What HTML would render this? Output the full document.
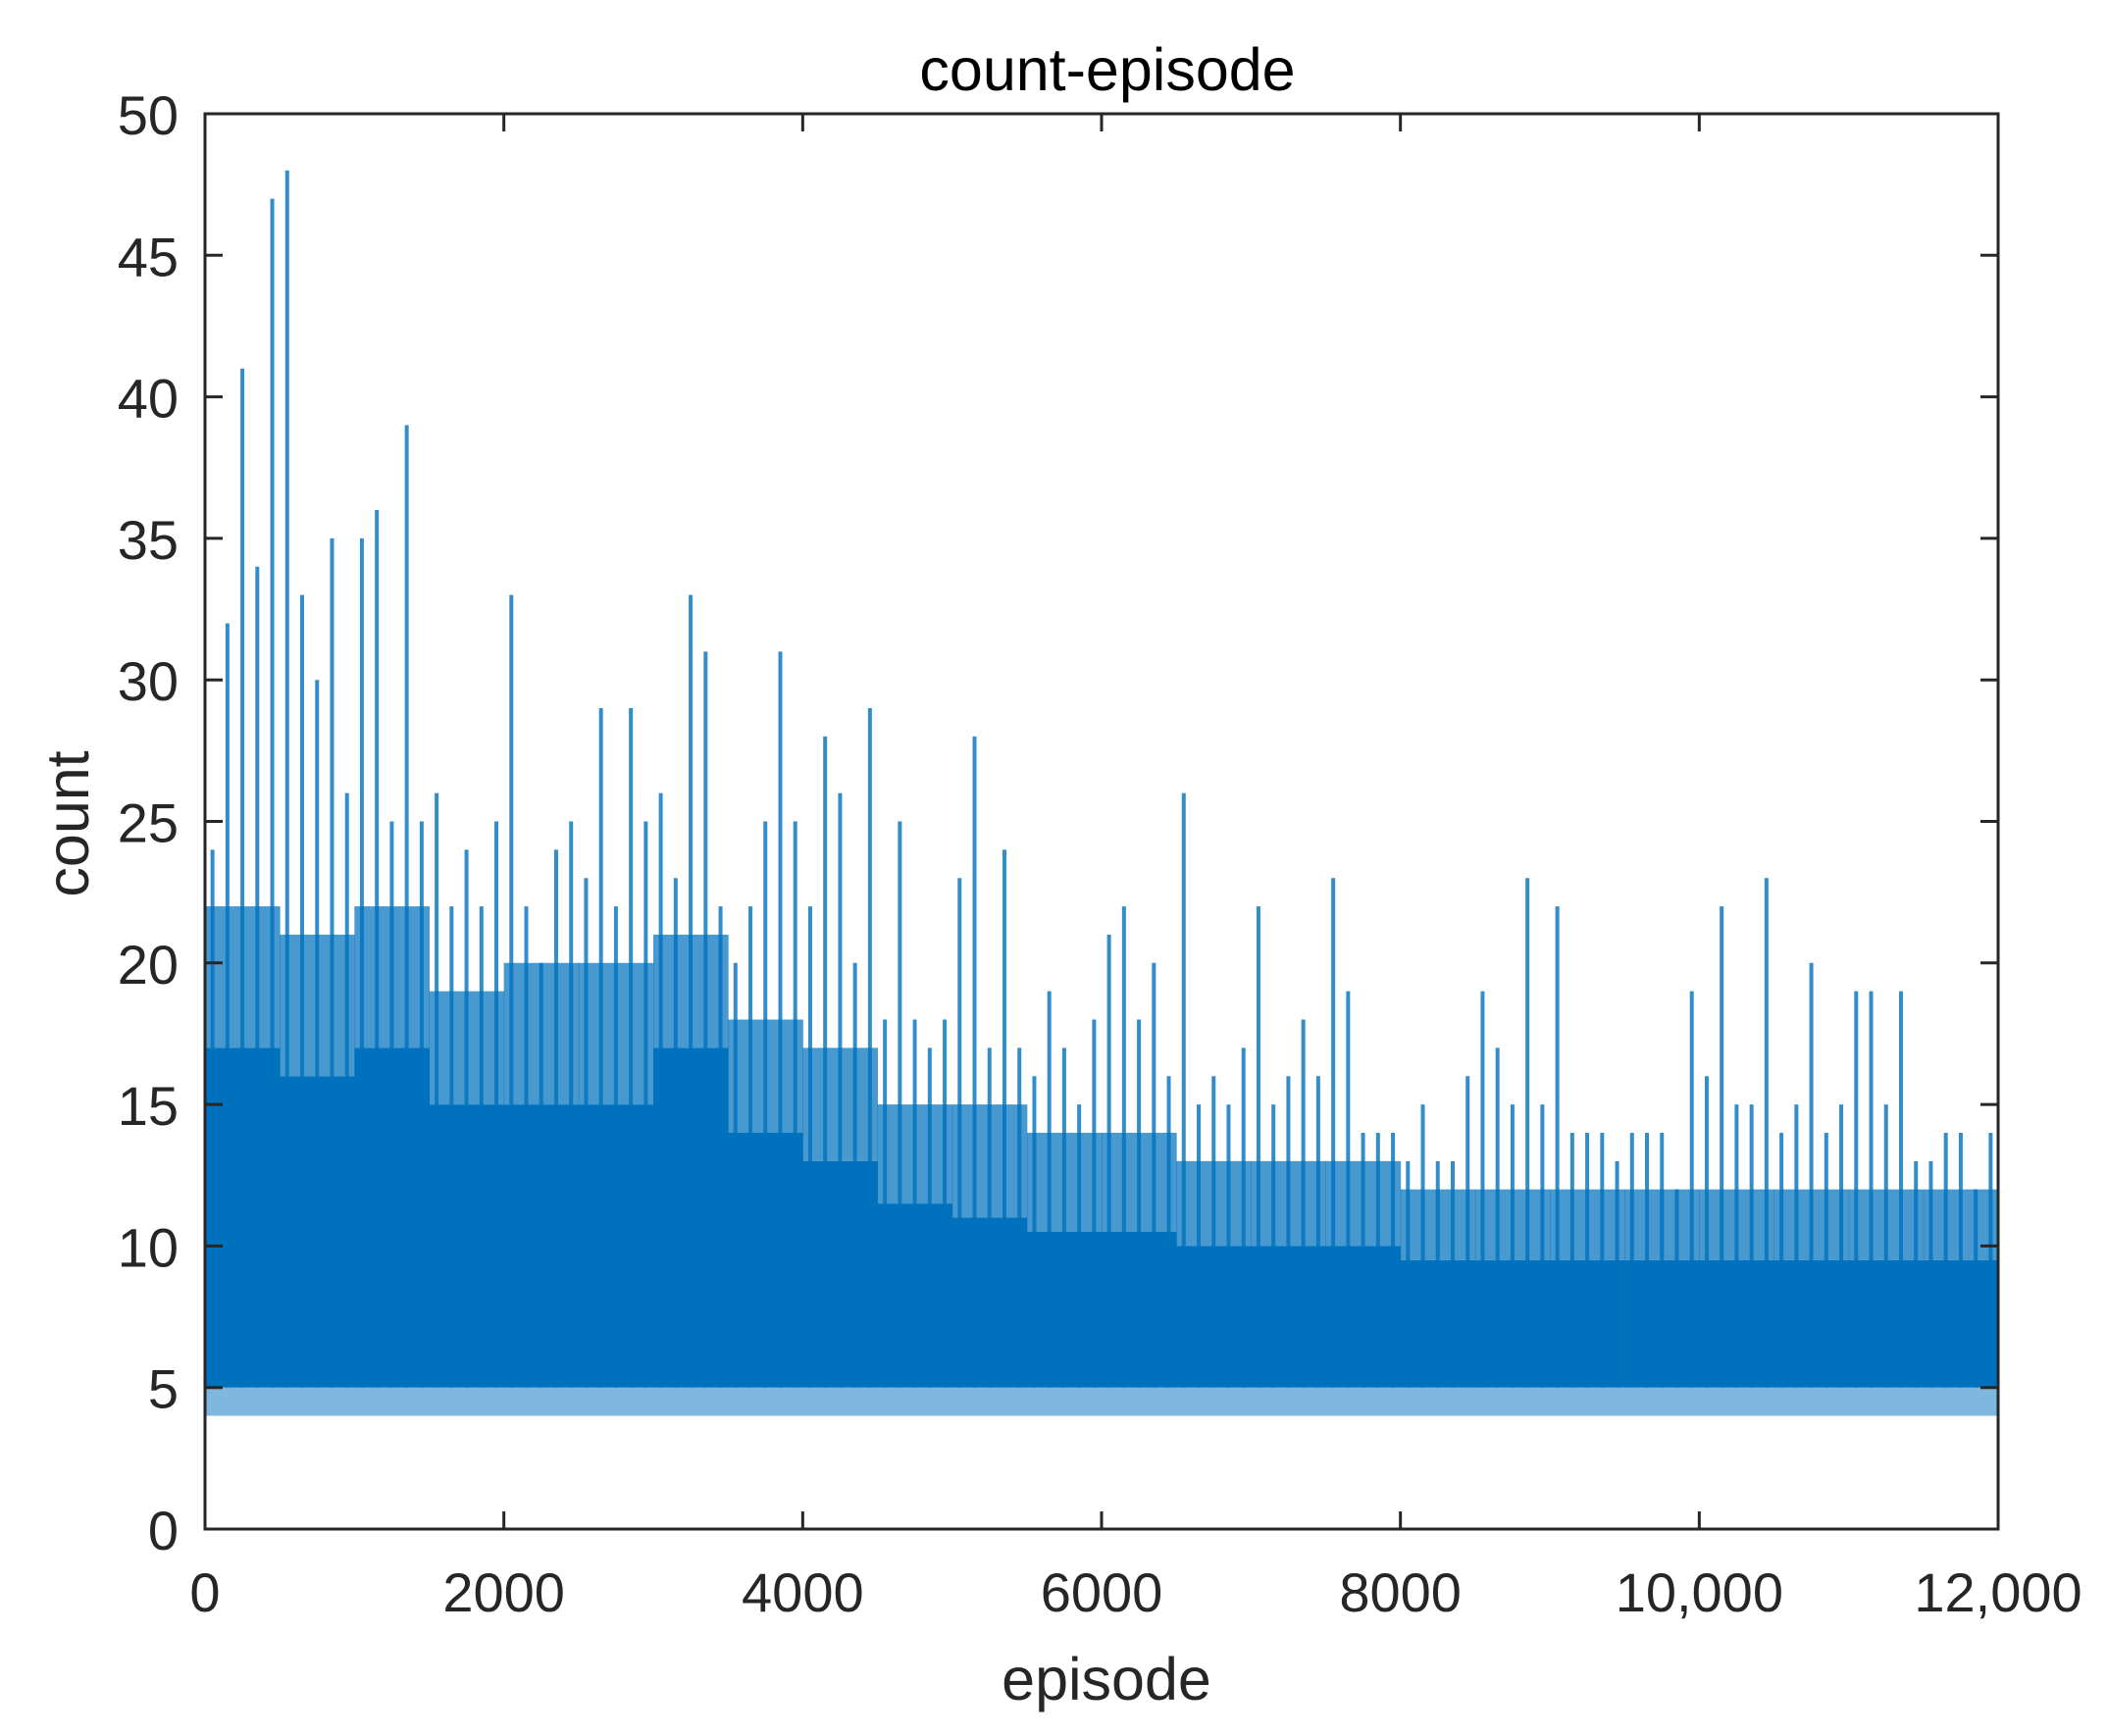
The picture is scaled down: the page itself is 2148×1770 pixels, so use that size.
<!DOCTYPE html>
<html><head><meta charset="utf-8"><style>
html,body{margin:0;padding:0;background:#fff;}
svg{display:block;font-family:"Liberation Sans",Arial,sans-serif;}
</style></head><body>
<svg id="chart" width="2148" height="1770" viewBox="0 0 2148 1770" xmlns="http://www.w3.org/2000/svg">
<rect x="0" y="0" width="2148" height="1770" fill="#fff"/>
<g id="plot"></g>
<g id="axes"></g>
<text x="1129" y="92" font-size="61" text-anchor="middle" fill="#000">count-episode</text>
<text x="1128" y="1733" font-size="61" text-anchor="middle" fill="#262626">episode</text>
<text transform="translate(90,840) rotate(-90)" font-size="61" text-anchor="middle" fill="#262626">count</text>
</svg>
<script>
// spike maxima per 100-episode bin (120 bins)
const spikeMax = [24,32,41,34,47,48,33,30,35,26,35,36,25,39,25,26,22,24,22,25,
33,22,20,24,25,23,29,22,29,25,26,23,33,31,22,20,22,25,31,25,
22,28,26,20,29,18,25,18,17,18,23,28,17,24,17,16,19,17,15,18,
21,22,18,20,16,26,15,16,15,17,22,15,16,18,16,23,19,14,14,14,
13,15,13,13,16,19,17,15,23,15,22,14,14,14,13,14,14,14,12,19,
16,22,15,15,23,14,15,20,14,15,19,19,15,19,13,13,14,14,12,14];
// dense core top per 500-episode block (24 blocks)
const coreTop = [17,16,17,15,15,15,17,14,13,11.5,11,10.5,10.5,10,10,10,9.5,9.5,9.5,9.5,9.5,9.5,9.5,9.5];
// upper fringe (frequent values) per 500-episode block
const fringeTop = [22,21,22,19,20,20,21,18,17,15,15,14,14,13,13,13,12,12,12,12,12,12,12,12];
const coreBottom = [5];
const minVal = [4];
const yTicks = [0,5,10,15,20,25,30,35,40,45,50];
const xTicks = [0,2000,4000,6000,8000,10000,12000];
const xTickLabels = ["0","2000","4000","6000","8000","10,000","12,000"];

const L=209,R=2037,T=116,B=1559, XMAX=12000, YMAX=50;
const sx = v => L + v/XMAX*(R-L);
const sy = v => B - v/YMAX*(B-T);
const NS="http://www.w3.org/2000/svg";
const plot=document.getElementById('plot'), axes=document.getElementById('axes');
function mk(tag, attrs, parent){const e=document.createElementNS(NS,tag);for(const k in attrs)e.setAttribute(k,attrs[k]);parent.appendChild(e);return e;}
const C="#0072BD";

const lf = mk('rect',{x:sx(0),y:sy(coreBottom[0]),width:sx(XMAX)-sx(0),height:sy(minVal[0])-sy(coreBottom[0]),fill:C,opacity:0.5},plot);



const blk = XMAX/fringeTop.length;
fringeTop.forEach((v,i)=>{
  const r=mk('rect',{x:sx(i*blk),y:sy(v),width:sx((i+1)*blk)-sx(i*blk)+0.5,height:sy(coreTop[i])-sy(v),fill:C,opacity:0.72},plot);
  
  
});
coreTop.forEach((v,i)=>{
  const r=mk('rect',{x:sx(i*blk),y:sy(v),width:sx((i+1)*blk)-sx(i*blk)+0.5,height:sy(coreBottom[0])-sy(v),fill:C},plot);
  
  
});
const sb = XMAX/spikeMax.length;
spikeMax.forEach((v,i)=>{
  const x=sx((i+0.5)*sb);
  const l=mk('line',{x1:x,x2:x,y1:sy(v),y2:sy(coreBottom[0]),stroke:C,'stroke-width':4,opacity:0.8},plot);
  
  
});

const fr=mk('rect',{x:L,y:T,width:R-L,height:B-T,fill:'none',stroke:'#262626','stroke-width':3},axes);


yTicks.forEach(v=>{
  const y=sy(v);
  mk('line',{x1:L,x2:L+18,y1:y,y2:y,stroke:'#262626','stroke-width':3},axes);
  mk('line',{x1:R,x2:R-18,y1:y,y2:y,stroke:'#262626','stroke-width':3},axes);
  const t=mk('text',{x:182,y:y+21,'font-size':56,'text-anchor':'end',fill:'#262626'},axes);
  t.textContent=String(v);
  
  
});
xTicks.forEach((v,i)=>{
  const x=sx(v);
  mk('line',{x1:x,x2:x,y1:B,y2:B-18,stroke:'#262626','stroke-width':3},axes);
  mk('line',{x1:x,x2:x,y1:T,y2:T+18,stroke:'#262626','stroke-width':3},axes);
  const t=mk('text',{x:x,y:1643,'font-size':56,'text-anchor':'middle',fill:'#262626'},axes);
  t.textContent=xTickLabels[i];
  
  
});
</script>
</body></html>
